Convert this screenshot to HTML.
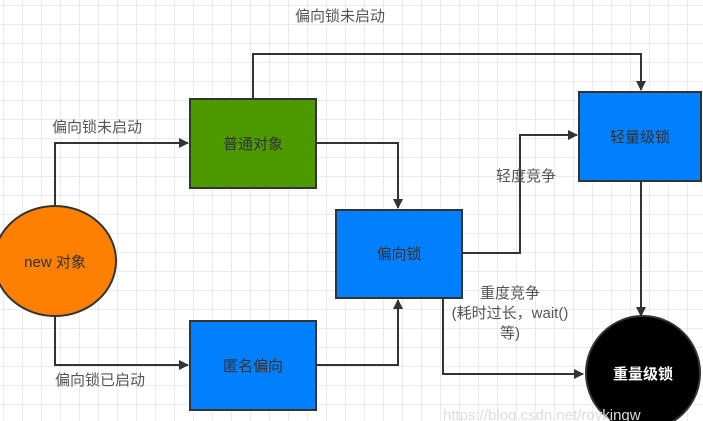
<!DOCTYPE html>
<html><head><meta charset="utf-8"><style>
html,body{margin:0;padding:0;}
body{width:703px;height:421px;overflow:hidden;background-color:#fff;
background-image:linear-gradient(#ebebeb 1px,transparent 1px),linear-gradient(90deg,#ebebeb 1px,transparent 1px);
background-size:19px 19px;background-position:3px 5px;}
svg{position:absolute;left:0;top:0;}
text{font-family:"Liberation Sans","Noto Sans CJK SC",sans-serif;font-size:15px;}
</style></head><body>
<svg width="703" height="421" viewBox="0 0 703 421">
<defs><marker id="a" markerWidth="10" markerHeight="10" refX="9" refY="5" orient="auto" markerUnits="userSpaceOnUse">
<path d="M0,0 L10,5 L0,10 Z" fill="#333"/></marker></defs>
<g fill="none" stroke="#333" stroke-width="2">
<path d="M55,205 V143 H188" marker-end="url(#a)"/>
<path d="M55,316 V365 H188" marker-end="url(#a)"/>
<path d="M316,143 H398 V208" marker-end="url(#a)"/>
<path d="M253,99 V54 H641 V90" marker-end="url(#a)"/>
<path d="M462,253 H520 V135 H577" marker-end="url(#a)"/>
<path d="M443,298 V374 H583" marker-end="url(#a)"/>
<path d="M316,365 H398 V300" marker-end="url(#a)"/>
<path d="M641,181 V316" marker-end="url(#a)"/>
</g>
<g stroke="#333" stroke-width="2">
<ellipse cx="55" cy="261" rx="61" ry="55" fill="#ff8000"/>
<rect x="190" y="99" width="126" height="89" fill="#4d9900"/>
<rect x="336" y="210" width="126" height="88" fill="#007fff"/>
<rect x="190" y="321" width="126" height="89" fill="#007fff"/>
<rect x="579" y="92" width="122" height="89" fill="#007fff"/>
<circle cx="643" cy="373" r="57" fill="#000"/>
</g>
<g fill="#333" text-anchor="middle">
<text x="55" y="267">new 对象</text>
<text x="253" y="149">普通对象</text>
<text x="399" y="259">偏向锁</text>
<text x="253" y="371">匿名偏向</text>
<text x="640" y="142">轻量级锁</text>
<text x="643" y="379" fill="#fff" font-weight="bold">重量级锁</text>
</g>
<g fill="#555">
<text x="295" y="21">偏向锁未启动</text>
<text x="52" y="132">偏向锁未启动</text>
<text x="55" y="385">偏向锁已启动</text>
<text x="496" y="181">轻度竞争</text>
<text x="510" y="298" text-anchor="middle">重度竞争</text>
<text x="510" y="318" text-anchor="middle">(耗时过长，wait()</text>
<text x="510" y="338" text-anchor="middle">等)</text>
</g>
<text x="443" y="420" fill="#ddd" font-size="19">https://blog.csdn.net/roykingw</text>
</svg>
</body></html>
